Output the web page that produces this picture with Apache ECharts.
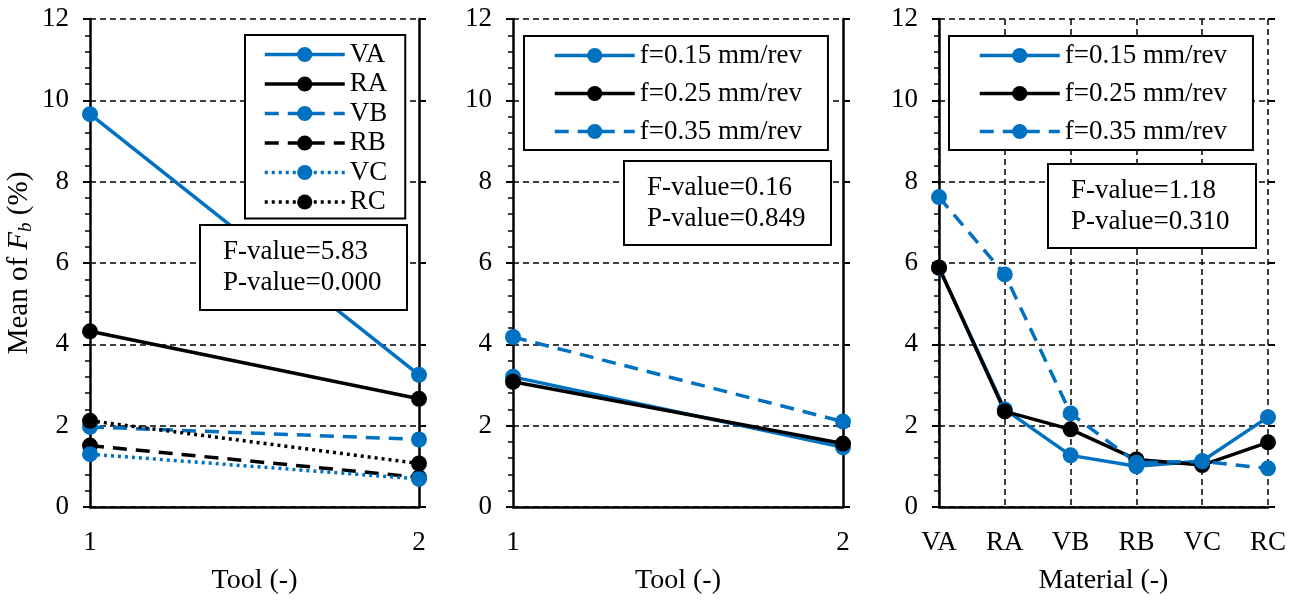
<!DOCTYPE html>
<html>
<head>
<meta charset="utf-8">
<script src="https://cdn.jsdelivr.net/npm/echarts@6/dist/echarts.min.js"></script>
<style>
  html, body { margin: 0; padding: 0; background: #fff; }
  #main { width: 1300px; height: 600px; }
</style>
</head>
<body>
<div id="main"></div>
<script>
// categories
var toolCats = ['1', '2'];
var materialCats = ['VA', 'RA', 'VB', 'RB', 'VC', 'RC'];

// left panel: material x tool
var VA = [9.66, 3.25];
var RA = [4.32, 2.66];
var VB = [1.97, 1.66];
var RB = [1.51, 0.73];
var VC = [1.30, 0.69];
var RC = [2.12, 1.07];

// middle panel: feed x tool
var f15Tool = [3.20, 1.47];
var f25Tool = [3.08, 1.56];
var f35Tool = [4.18, 2.10];

// right panel: feed x material
var f15Mat = [5.88, 2.40, 1.27, 1.00, 1.13, 2.21];
var f25Mat = [5.89, 2.35, 1.91, 1.17, 1.03, 1.59];
var f35Mat = [7.62, 5.72, 2.30, 1.09, 1.12, 0.95];

var BLUE = '#0070C0';
var FONT = '"Liberation Serif", "Times New Roman", serif';
var names = ['f=0.15 mm/rev', 'f=0.25 mm/rev', 'f=0.35 mm/rev'];

var chart = echarts.init(document.getElementById('main'), null, { renderer: 'canvas' });

function grid(left, right) {
  return { left: left, right: right, top: 19, bottom: 90 };
}

function xAxis(idx, cats, name, split) {
  return {
    gridIndex: idx,
    type: 'category',
    data: cats,
    boundaryGap: false,
    name: name,
    nameLocation: 'middle',
    nameGap: 60,
    nameTextStyle: { fontFamily: FONT, fontSize: 28, color: '#000' },
    axisLine: { lineStyle: { color: '#000', width: 2.5 } },
    axisTick: { show: false },
    axisLabel: { fontFamily: FONT, fontSize: 27, color: '#000', margin: 22 },
    splitLine: { show: split, lineStyle: { color: '#000', width: 1.5, type: [6, 4] } }
  };
}

function yAxis(idx, withName) {
  var ax = {
    gridIndex: idx,
    type: 'value',
    min: 0,
    max: 12,
    interval: 2,
    axisLine: { show: true, lineStyle: { color: '#000', width: 2.5 } },
    axisTick: { show: true, length: 7, lineStyle: { color: '#000', width: 2 } },
    minorTick: { show: true, splitNumber: 5, length: 5, lineStyle: { color: '#000', width: 1.5 } },
    axisLabel: { fontFamily: FONT, fontSize: 27, color: '#000', margin: 21 },
    splitLine: { show: true, lineStyle: { color: '#000', width: 1.5, type: [6, 4] } }
  };
  if (withName) {
    ax.name = '{t|Mean of }{i|F}{s|b}{t| (%)}';
    ax.nameLocation = 'middle';
    ax.nameGap = 55;
    ax.nameTextStyle = {
      rich: {
        t: { fontFamily: FONT, fontSize: 29, color: '#000' },
        i: { fontFamily: FONT, fontSize: 29, color: '#000', fontStyle: 'italic' },
        s: { fontFamily: FONT, fontSize: 19, color: '#000', fontStyle: 'italic', padding: [12, 0, 0, 0] }
      }
    };
  }
  return ax;
}

function rightAxis(idx, line) {
  return {
    gridIndex: idx,
    type: 'value',
    position: 'right',
    min: 0,
    max: 12,
    interval: 2,
    axisLine: { show: line, lineStyle: { color: '#000', width: 2.5 } },
    axisTick: { show: true, length: 7, lineStyle: { color: '#000', width: 2 } },
    axisLabel: { show: false },
    splitLine: { show: false }
  };
}

function line(name, data, xi, color, type) {
  return {
    name: name,
    type: 'line',
    xAxisIndex: xi,
    yAxisIndex: xi,
    data: data,
    symbol: 'circle',
    symbolSize: 16,
    showSymbol: true,
    itemStyle: { color: color },
    lineStyle: { color: color, width: 3.5, type: type },
    emphasis: { disabled: true }
  };
}

var DASH = [14, 9];
var DOT = [3, 4];

function legend(names, left, top, gap, pad) {
  return {
    data: names,
    orient: 'vertical',
    left: left,
    top: top,
    itemWidth: 80,
    itemHeight: 19,
    itemGap: gap,
    padding: pad,
    backgroundColor: '#fff',
    borderColor: '#000',
    borderWidth: 2,
    borderRadius: 0,
    selectedMode: false,
    lineStyle: { width: 3.5 },
    textStyle: { fontFamily: FONT, fontSize: 27, color: '#000', lineHeight: 25 }
  };
}

function noteBox(x, y, w, h, l1, l2) {
  return {
    type: 'group',
    z: 100,
    children: [
      { type: 'rect', shape: { x: x, y: y, width: w, height: h }, style: { fill: '#fff', stroke: '#000', lineWidth: 2 }, z: 100 },
      { type: 'text', x: x + 23, y: y + 27, style: { text: l1, fontFamily: FONT, fontSize: 27, fill: '#000', verticalAlign: 'middle' }, z: 101 },
      { type: 'text', x: x + 23, y: y + 58, style: { text: l2, fontFamily: FONT, fontSize: 27, fill: '#000', verticalAlign: 'middle' }, z: 101 }
    ]
  };
}

var option = {
  animation: false,
  backgroundColor: '#fff',
  grid: [grid(90, 881), grid(513, 457), grid(939, 32)],
  xAxis: [
    xAxis(0, toolCats, 'Tool (-)', false),
    xAxis(1, toolCats, 'Tool (-)', false),
    xAxis(2, materialCats, 'Material (-)', true)
  ],
  yAxis: [
    yAxis(0, true), yAxis(1, false), yAxis(2, false),
    rightAxis(0, true), rightAxis(1, true), rightAxis(2, false)
  ],
  legend: [
    legend(['VA', 'RA', 'VB', 'RB', 'VC', 'RC'], 245, 35, 2.5, [6, 18, 3, 18]),
    legend(names, 524, 36, 11, [6, 26, 5, 29]),
    legend(names, 949, 36, 11, [6, 26, 5, 29])
  ],
  graphic: [
    noteBox(200, 225, 207, 85, 'F-value=5.83', 'P-value=0.000'),
    noteBox(624, 161, 207, 84, 'F-value=0.16', 'P-value=0.849'),
    noteBox(1048, 164, 208, 84, 'F-value=1.18', 'P-value=0.310')
  ],
  series: [
    line('VA', VA, 0, BLUE, 'solid'),
    line('RA', RA, 0, '#000', 'solid'),
    line('VB', VB, 0, BLUE, DASH),
    line('RB', RB, 0, '#000', DASH),
    line('VC', VC, 0, BLUE, DOT),
    line('RC', RC, 0, '#000', DOT),
    line(names[0], f15Tool, 1, BLUE, 'solid'),
    line(names[1], f25Tool, 1, '#000', 'solid'),
    line(names[2], f35Tool, 1, BLUE, DASH),
    line(names[0], f15Mat, 2, BLUE, 'solid'),
    line(names[1], f25Mat, 2, '#000', 'solid'),
    line(names[2], f35Mat, 2, BLUE, DASH)
  ]
};

chart.setOption(option);
</script>
</body>
</html>
